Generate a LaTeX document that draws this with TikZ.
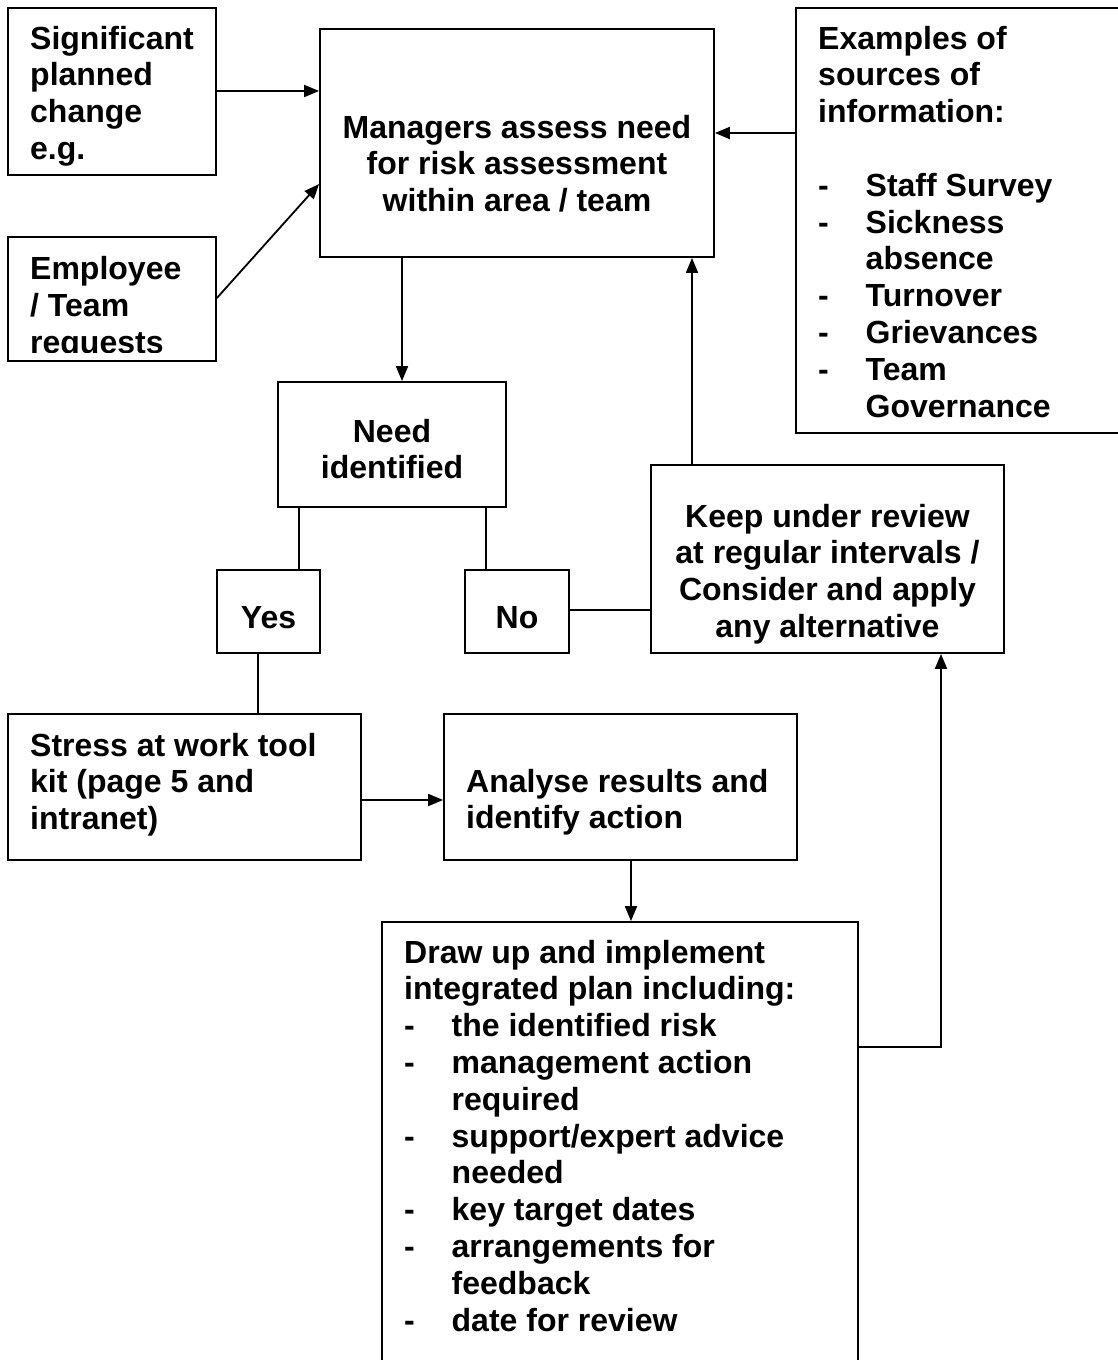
\documentclass[tikz,border=0pt]{standalone}
\usepackage{fontspec}
\setmainfont{Liberation Sans}
\usetikzlibrary{arrows.meta,fit}
\newcommand\itm[1]{\makebox[47.5pt][l]{-}#1}
\newcommand\cnt[1]{\hspace*{47.5pt}#1}
\begin{document}
\begin{tikzpicture}[x=1pt,y=-1pt,
 box/.style={draw,line width=1.8pt,inner sep=0pt,rectangle},
 txt/.style={inner sep=0pt,font=\fontsize{32}{36.8}\selectfont\bfseries,align=left,anchor=base west},
 ctxt/.style={inner sep=0pt,font=\fontsize{32}{36.8}\selectfont\bfseries,align=center,anchor=base},
 arr/.style={line width=1.8pt,-{Triangle[length=15pt,width=12pt]}},
 ln/.style={line width=1.8pt}]
\useasboundingbox (0,0) rectangle (1118,1360);
% boxes
\node[box,fit={(8,8)(216,175)}] (A) {};
\node[box,fit={(8,237)(216,361)}] (B) {};
\node[box,fit={(320,29)(714,257)}] (M) {};
\node[box,fit={(796,8)(1130,433)}] (E) {};
\node[box,fit={(278,382)(506,507)}] (N) {};
\node[box,fit={(217,570)(320,653)}] (Y) {};
\node[box,fit={(465,570)(569,653)}] (No) {};
\node[box,fit={(651,465)(1004,653)}] (K) {};
\node[box,fit={(8,714)(361,860)}] (S) {};
\node[box,fit={(444,714)(797,860)}] (An) {};
\node[box,fit={(382,922)(858,1380)}] (D) {};
% texts (anchor = baseline of the last line)
\node[txt] (At) at (30,159.4) {Significant\\planned\\change\\e.g.};
\begin{scope}
\clip (8,237) rectangle (216,352);
\node[txt] (Bt) at (30,353.5) {Employee\\/ Team\\requests};
\end{scope}
\node[ctxt] (Mt) at (517,211.6) {Managers assess need\\for risk assessment\\within area / team};
\node[txt] (Et) at (818,417) {Examples of\\sources of\\information:\\[36.8pt]\itm{Staff Survey}\\\itm{Sickness}\\\cnt{absence}\\\itm{Turnover}\\\itm{Grievances}\\\itm{Team}\\\cnt{Governance}};
\node[ctxt] (Nt) at (392,478.8) {Need\\identified};
\node[ctxt] (Yt) at (268.5,628) {Yes};
\node[ctxt] (Not) at (517,628) {No};
\node[ctxt] (Kt) at (827.5,637.4) {Keep under review\\at regular intervals /\\Consider and apply\\any alternative};
\node[txt] (St) at (30,829.6) {Stress at work tool\\kit (page 5 and\\intranet)};
\node[txt] (Ant) at (466,828.8) {Analyse results and\\identify action};
\node[txt] (Dt) at (404,1331) {Draw up and implement\\integrated plan including:\\\itm{the identified risk}\\\itm{management action}\\\cnt{required}\\\itm{support/expert advice}\\\cnt{needed}\\\itm{key target dates}\\\itm{arrangements for}\\\cnt{feedback}\\\itm{date for review}};
% connectors
\draw[arr] (A.east |- 0,91) -- (M.west |- 0,91);
\draw[arr] (B.east |- 0,298) -- (M.west |- 0,184);
\draw[arr] (E.west |- 0,133) -- (M.east |- 0,133);
\draw[arr] (M.south -| 402,0) -- (N.north -| 402,0);
\draw[ln] (N.south -| 299,0) -- (Y.north -| 299,0);
\draw[ln] (N.south -| 486,0) -- (No.north -| 486,0);
\draw[ln] (No.east |- 0,610) -- (K.west |- 0,610);
\draw[arr] (K.north -| 692,0) -- (M.south -| 692,0);
\draw[ln] (Y.south -| 258,0) -- (S.north -| 258,0);
\draw[arr] (S.east |- 0,800) -- (An.west |- 0,800);
\draw[arr] (An.south -| 631,0) -- (D.north -| 631,0);
\draw[arr] (D.east |- 0,1047) -| (K.south -| 941,0);
\end{tikzpicture}
\end{document}
